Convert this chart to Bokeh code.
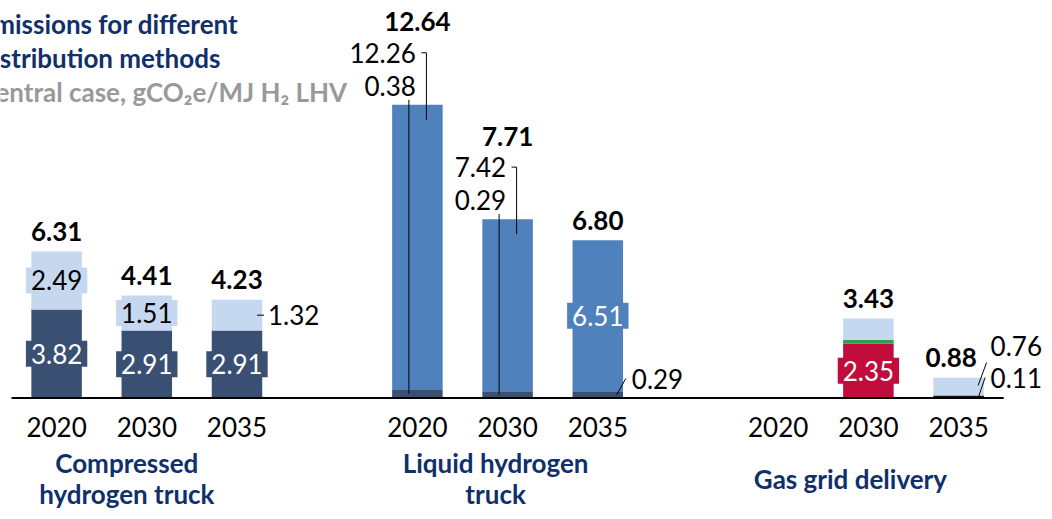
from bokeh.plotting import figure
from bokeh.models import ColumnDataSource, Label
from bokeh.embed import file_html
from bokeh.resources import INLINE
from bokeh.core.properties import value

# ---------------- data ----------------
groups = ["Compressed\nhydrogen truck", "Liquid hydrogen\ntruck", "Gas grid delivery"]
years = ["2020", "2030", "2035"]

# bars ordered group-major, year-minor (9 bars)
seg_navy = [3.82, 2.91, 2.91, 0.38, 0.29, 0.29, 0.0, 0.0, 0.0]
seg_black = [0.0, 0.0, 0.0, 0.0, 0.0, 0.0, 0.0, 0.0, 0.11]
seg_liquid = [0.0, 0.0, 0.0, 12.26, 7.42, 6.51, 0.0, 0.0, 0.0]
seg_red = [0.0, 0.0, 0.0, 0.0, 0.0, 0.0, 0.0, 2.35, 0.0]
seg_green = [0.0, 0.0, 0.0, 0.0, 0.0, 0.0, 0.0, 0.15, 0.0]
seg_light = [2.49, 1.51, 1.32, 0.0, 0.0, 0.0, 0.0, 0.93, 0.76]
totals = [6.31, 4.41, 4.23, 12.64, 7.71, 6.80, None, 3.43, 0.88]

title_lines = ["Emissions for different", "distribution methods"]
subtitle = "Central case, gCO\u2082e/MJ H\u2082 LHV"

# ---------------- style / layout ----------------
NAVY = "#3A5072"
BLACK = "#111111"
MID = "#4F81BD"
RED = "#C00D3B"
GREEN = "#2E9E4F"
LIGHT = "#C5D8F0"
TITLE_NAVY = "#102F6B"
GRAY = "#999999"
FONT = "Lato"
FS = "26px"

W, H = 1044, 511
SX = 90.2      # px per slot
SY = 23.2      # px per unit
BASE_PX = 397.5
LEFT_PX = 11.0


def xd(px):
    return -0.5 + (px - LEFT_PX) / SX


def yd(py):
    return (BASE_PX - py) / SY


def ox(slot, dpx):
    return slot + dpx / SX


def oy(val, dpx):
    return val + dpx / SY


slots = [g * 4 + i for g in range(len(groups)) for i in range(len(years))]
keys = ["navy", "black", "liquid", "red", "green", "light"]
series = dict(navy=seg_navy, black=seg_black, liquid=seg_liquid,
              red=seg_red, green=seg_green, light=seg_light)
colors = [NAVY, BLACK, MID, RED, GREEN, LIGHT]

src = ColumnDataSource(dict(x=slots, **series))

p = figure(width=W, height=H,
           x_range=(xd(0), xd(W)), y_range=(yd(H), yd(0)),
           output_backend="svg", toolbar_location=None,
           x_axis_location=None, y_axis_location=None, min_border=0)
p.outline_line_color = None
p.grid.grid_line_color = None
p.background_fill_color = "white"
p.border_fill_color = "white"

p.vbar_stack(keys, x="x", width=0.56, fill_color=colors, line_color=None, source=src)

# baseline axis
p.segment(x0=[min(slots) - 0.5], x1=[max(slots) + 0.5], y0=[0], y1=[0],
          line_color="black", line_width=2)

# year tick labels
p.text(x=slots, y=[yd(426)] * len(slots), text=years * len(groups),
       text_align="center", text_baseline="middle",
       text_font=value(FONT), text_font_size=FS, text_color="black")


def cum_bottom(i, key):
    s = 0.0
    for k in keys:
        if k == key:
            return s
        s += series[k][i]
    return s


def add_label(x, y, text, align="center", color="black", bold=False, bg=None, base="middle"):
    kw = {}
    if bg is not None:
        kw = dict(background_fill_color=bg, padding=dict(left=5, right=5, top=3, bottom=3))
    p.add_layout(Label(x=x, y=y, text=text, text_align=align, text_baseline=base,
                       text_font=FONT, text_font_size=FS, text_color=color,
                       text_font_style="bold" if bold else "normal", **kw))


# inside (boxed) labels
inside = [(0, "navy"), (0, "light"), (1, "navy"), (1, "light"), (2, "navy"), (5, "liquid"), (7, "red")]
for i, k in inside:
    v = series[k][i]
    yc = cum_bottom(i, k) + v / 2
    bg = colors[keys.index(k)]
    fg = "black" if k == "light" else "white"
    add_label(slots[i], yc, f"{v:.2f}", bg=bg, color=fg)

# totals
for i, t in enumerate(totals):
    if t is None:
        continue
    dx, up = 0, 20
    if i in (3, 4):
        up = 83
    if i == 8:
        dx = -7.5
    add_label(ox(slots[i], dx), oy(t, up), f"{t:.2f}", bold=True)

lx0, ly0, lx1, ly1 = [], [], [], []


def leader(x0, y0, x1, y1):
    lx0.append(x0); ly0.append(y0); lx1.append(x1); ly1.append(y1)


# liquid 2020 / 2030: labels stacked above the bar
for i in (3, 4):
    s = slots[i]
    t = totals[i]
    add_label(ox(s, -1.5), oy(t, 52), f"{seg_liquid[i]:.2f}", align="right")
    add_label(ox(s, -1.5), oy(t, 19), f"{seg_navy[i]:.2f}", align="right")
    leader(ox(s, 4), oy(t, 52), ox(s, 9), oy(t, 52))
    leader(ox(s, 9), oy(t, 52), ox(s, 9), oy(t, -15))
    leader(ox(s, -8.5), oy(t, 5), ox(s, -8.5), seg_navy[i] / 2)

# liquid 2035 small base segment
s = slots[5]
add_label(ox(s, 34), oy(0, 19.5), f"{seg_navy[5]:.2f}", align="left")
leader(ox(s, 19), seg_navy[5] / 2, ox(s, 28), oy(0, 19.5))

# compressed 2035 light segment
s = slots[2]
yc = seg_navy[2] + seg_light[2] / 2
add_label(ox(s, 31), yc, f"{seg_light[2]:.2f}", align="left")
leader(ox(s, 20), yc, ox(s, 27), yc)

# gas 2035
s = slots[8]
add_label(ox(s, 32), oy(0, 52.5), f"{seg_light[8]:.2f}", align="left")
leader(ox(s, 19.5), oy(0, 12.5), ox(s, 28), oy(0, 35.5))
add_label(ox(s, 32), oy(0, 20.5), f"{seg_black[8]:.2f}", align="left")
leader(ox(s, 20), seg_black[8] / 2, ox(s, 26.5), oy(0, 20.5))

p.segment(x0=lx0, y0=ly0, x1=lx1, y1=ly1, line_color="black", line_width=1)

# group labels
gdx = [-20, -12, -18]
for g, name in enumerate(groups):
    p.add_layout(Label(x=ox(g * 4 + 1, gdx[g]), y=yd(478), text=name,
                       text_align="center", text_baseline="middle",
                       text_font=FONT, text_font_size=FS, text_font_style="bold",
                       text_color=TITLE_NAVY, text_line_height=0.95))

# title (clipped at the left edge as in the source)
for j, line in enumerate(title_lines):
    p.add_layout(Label(x=xd(-22), y=yd(23 + 34 * j), text=line, text_align="left",
                       text_baseline="alphabetic", text_font=FONT, text_font_size=FS,
                       text_font_style="bold", text_color=TITLE_NAVY))
p.add_layout(Label(x=xd(-22), y=yd(91), text=subtitle, text_align="left",
                   text_baseline="alphabetic", text_font=FONT, text_font_size=FS,
                   text_font_style="bold", text_color=GRAY))

open("out.html", "w").write(file_html(p, INLINE))
